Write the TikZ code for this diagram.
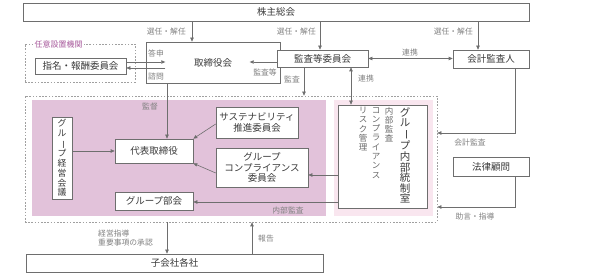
\documentclass[tikz,border=0pt]{standalone}
\usepackage{fontspec}
\setmainfont{Noto Sans CJK JP}
\usepackage{graphicx}
\usetikzlibrary{arrows.meta,positioning,calc}
\definecolor{Ink}{HTML}{3A3A3A}
\definecolor{Wire}{HTML}{6E6E6E}
\definecolor{Note}{HTML}{808080}
\definecolor{Mauve}{HTML}{E2C2DA}
\definecolor{Blush}{HTML}{F9E6EF}
\definecolor{Plum}{HTML}{A85A9C}
\definecolor{Dots}{HTML}{A0A0A0}
\newcommand{\chouon}{\rotatebox[origin=c]{-90}{ー}}

\begin{document}
\begin{tikzpicture}[x=1pt,y=-1pt,
    >={Triangle[length=4pt,width=3.4pt]},
    box/.style={draw=Wire,fill=white,line width=0.6pt,inner sep=0pt,text=Ink,
      font=\fontsize{9.5}{10.5}\selectfont,align=center},
    zone/.style={draw=Dots,line width=0.6pt,dash pattern=on 1.6pt off 1.6pt,inner sep=0pt},
    arr/.style={->,draw=Wire,line width=0.6pt},
    lab/.style={text=Note,font=\fontsize{7.8}{9.5}\selectfont,inner sep=0pt},
    tate/.style={inner sep=0pt,align=center,anchor=north}
  ]
  \useasboundingbox (0,0) rectangle (598,280);
  % shaded areas
  \fill[Mauve] (32,100) rectangle (326,216);
  \fill[Blush] (334,100) rectangle (433,216);
  \node[zone,minimum width=412pt,minimum height=126pt] (group) at (231,159) {};
  \node[zone,minimum width=110pt,minimum height=38pt] (nini) at (80,63) {};
  \node[anchor=west,fill=white,text=Plum,font=\fontsize{8}{9}\selectfont,inner sep=1.5pt]
    (ninilab) at (33,44) {任意設置機関};

  % boxes
  \node[box,minimum width=506pt,minimum height=18pt] (kabu) at (276,12) {株主総会};
  \node[box,minimum width=134pt,minimum height=41pt] (tori) at (213,62.5) {取締役会};
  \node[box,minimum width=91pt,minimum height=17pt] (kansa) at (322.5,58.5) {監査等委員会};
  \node[box,minimum width=76pt,minimum height=18pt] (kaikei) at (491,59) {会計監査人};
  \node[box,minimum width=91pt,minimum height=16pt] (shimei) at (80.5,66) {指名・報酬委員会};
  \node[box,minimum width=20pt,minimum height=82pt,font=\fontsize{8.8}{9.9}\selectfont]
    (keiei) at (62,158) {グ\\ル\\\chouon\\プ\\経\\営\\会\\議};
  \node[box,minimum width=78pt,minimum height=24pt] (daihyo) at (154,151) {代表取締役};
  \node[box,minimum width=82pt,minimum height=31pt] (sustain) at (257,122.5)
    {サステナビリティ\\推進委員会};
  \node[box,minimum width=92pt,minimum height=39pt] (comp) at (262,167.5)
    {グループ\\コンプライアンス\\委員会};
  \node[box,minimum width=78pt,minimum height=18pt] (bukai) at (154,201) {グループ部会};
  \node[box,minimum width=89pt,minimum height=103pt] (naibu) at (382.5,156.5) {};
  \node[tate,text=Ink,font=\fontsize{10.5}{10.6}\selectfont] (naibu1) at (405,107)
    {グ\\ル\\\chouon\\プ\\内\\部\\統\\制\\室};
  \node[tate,text=Ink!75,font=\fontsize{8.5}{9.2}\selectfont] (naibu2) at (389,107)
    {内\\部\\監\\査};
  \node[tate,text=Ink!75,font=\fontsize{8.5}{9.3}\selectfont] (naibu3) at (376,107)
    {コ\\ン\\プ\\ラ\\イ\\ア\\ン\\ス};
  \node[tate,text=Ink!75,font=\fontsize{8.5}{9.3}\selectfont] (naibu4) at (363,107)
    {リ\\ス\\ク\\管\\理};
  \node[box,minimum width=76pt,minimum height=19pt] (horitsu) at (491,166.5) {法律顧問};
  \node[box,minimum width=297pt,minimum height=18pt] (kogaisha) at (174.5,263) {子会社各社};

  % connectors
  \draw[arr] (192,0 |- kabu.south) -- (192,0 |- tori.north);
  \node[lab,anchor=east] (sen1) at (186,32) {選任・解任};
  \draw[arr] (320,0 |- kabu.south) -- (320,0 |- kansa.north);
  \node[lab,anchor=east] (sen2) at (316,32) {選任・解任};
  \draw[arr] (478,0 |- kabu.south) -- (478,0 |- kaikei.north);
  \node[lab,anchor=east] (sen3) at (473,32) {選任・解任};

  \draw[arr,<->] (kansa.east) -- (kansa.east -| kaikei.west);
  \node[lab] (renkei1) at (410,53) {連携};
  \draw[arr] (kansa.west |- 0,62) -- ++(-27,0);
  \node[lab] (kansato) at (265,73) {監査等};

  \draw[arr] (shimei.east |- 0,62) -- ++(39,0);
  \node[lab] (toshin) at (156,53) {答申};
  \draw[arr] ($(shimei.east |- 0,68)+(39,0)$) -- (shimei.east |- 0,68);
  \node[lab] (shimon) at (156,77) {諮問};

  \draw[arr] (304,0 |- kansa.south) -- (304,0 |- group.north);
  \node[lab] (kansa2) at (292,79) {監査};
  \draw[arr,<->] (351,0 |- kansa.south) -- (351,0 |- naibu.north);
  \node[lab] (renkei2) at (366,79) {連携};

  \draw[arr] (167,0 |- tori.south) -- (167,0 |- daihyo.north);
  \node[lab] (kantoku) at (150,107) {監督};
  \draw[arr] (keiei.east |- daihyo.west) -- (daihyo.west);
  \draw[arr] (sustain.west |- 0,124) -- (daihyo.north east);
  \draw[arr] (comp.west |- 0,173) -- (daihyo.south east);
  \draw[arr] (naibu.west |- 0,175) -- (comp.east |- 0,175);
  \draw[arr] (naibu.west |- 0,202) -- (bukai.east |- 0,202);
  \node[lab] (naibukansa) at (288,211) {内部監査};

  \draw[arr] (515,0 |- kaikei.south) |- (group.east |- 0,133);
  \node[lab] (kaikeikansa) at (470,143) {会計監査};
  \draw[arr] (515,0 |- horitsu.south) |- (group.east |- 0,207);
  \node[lab] (jogen) at (475,217) {助言・指導};

  \draw[arr] (167,0 |- group.south) -- (167,0 |- kogaisha.north);
  \node[lab,anchor=west,align=left] (shido) at (98,238) {経営指導\\重要事項の承認};
  \draw[arr] (252,0 |- kogaisha.north) -- (252,0 |- group.south);
  \node[lab] (hokoku) at (266,239) {報告};
\end{tikzpicture}
\end{document}
